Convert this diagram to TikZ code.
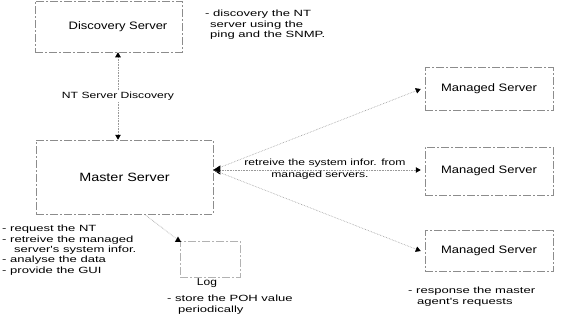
\documentclass[tikz,border=0pt]{standalone}
\usepackage{fontspec}
\setmainfont[FakeStretch=1.2]{Liberation Sans}
\newfontfamily\notefont[FakeStretch=1.45]{Liberation Sans}
\newfontfamily\labelfont[FakeStretch=1.35]{Liberation Sans}
\usetikzlibrary{arrows.meta,shapes.geometric}

\begin{document}
\begin{tikzpicture}[x=1pt,y=-1pt,
  box/.style={draw=black!45, dash pattern=on 8pt off 2pt on 2pt off 2pt,
    line width=0.5pt, inner sep=0pt, font=\fontsize{10.8}{12}\selectfont},
  link/.style={draw=black!40, densely dotted, line width=0.6pt},
  headtip/.style={-{Triangle[length=5pt,width=5.5pt,color=black]}},
  note/.style={align=left, anchor=north west, inner sep=0pt,
    font=\notefont\fontsize{9}{10.4}\selectfont},
  linklabel/.style={inner sep=0pt, font=\labelfont\fontsize{9}{10.5}\selectfont}]

\useasboundingbox[fill=white] (0,0) rectangle (563,335);

% servers
\node[box, minimum width=147pt, minimum height=51pt] (disc) at (108.5,26.5)
  {\hspace*{19pt}Discovery Server};
\node[box, minimum width=177pt, minimum height=74pt,
  font=\fontsize{12}{14}\selectfont] (master) at (124.5,177) {Master Server};
\node[box, minimum width=128pt, minimum height=43pt] (ms1) at (489,89) {Managed Server};
\node[box, minimum width=128pt, minimum height=48pt] (ms2) at (489,171) {Managed Server};
\node[box, minimum width=128pt, minimum height=41pt] (ms3) at (489,251) {Managed Server};

% log store
\node[box, draw=black!30, minimum width=60pt, minimum height=36pt] (log) at (210,259) {};
\node[inner sep=0pt, font=\fontsize{10}{12}\selectfont] (logname) at (207,283) {Log};
\node[regular polygon, regular polygon sides=3, fill=black, inner sep=0pt,
  minimum size=7pt] (logtip) at (178,240) {};

% discovery link
\draw[link, {Triangle[length=5pt,width=5.5pt,color=black]}-{Triangle[length=5pt,width=5.5pt,color=black]}]
  ([xshift=9.5pt]disc.south) -- ([xshift=-6.5pt]master.north)
  node[midway, fill=white, inner sep=1pt, font=\labelfont\fontsize{9}{10.5}\selectfont]
  {NT Server Discovery};

% master to managed servers
\coordinate (hub) at ([yshift=7pt]master.east);
\draw[link, headtip] (hub) -- ([xshift=-4pt]ms1.west);
\draw[link, {Triangle[length=7pt,width=9pt,color=black]}-{Triangle[length=5pt,width=5.5pt,color=black]}]
  (hub) -- ([xshift=-4pt,yshift=1pt]ms2.west);
\draw[link, headtip] (hub) -- ([xshift=-4pt]ms3.west);
\node[linklabel, anchor=south] (pulltxt) at (325,168) {retreive the system infor. from};
\node[linklabel, anchor=north] (pulltxt2) at (320,171) {managed servers.};

% master to log
\draw[link] ([xshift=20pt]master.south) -- (logtip);

% notes
\node[note] (discnote) at (205,10)
  {- discovery the NT\\\hspace*{5pt}server using the\\\hspace*{5pt}ping and the SNMP.};
\node[note] (masternote) at (2,225)
  {- request the NT\\- retreive the managed\\\hspace*{12pt}server's system infor.\\- analyse the data\\- provide the GUI};
\node[note] (lognote) at (167,295)
  {- store the POH value\\\hspace*{11pt}periodically};
\node[note] (msnote) at (408,287)
  {- response the master\\\hspace*{9pt}agent's requests};
\end{tikzpicture}
\end{document}
